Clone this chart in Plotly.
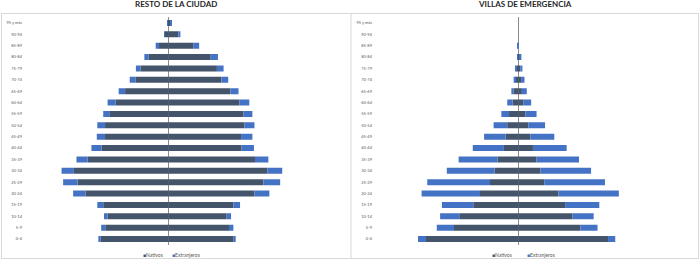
import plotly.graph_objects as go

ages = ["0-4", "5-9", "10-14", "15-19", "20-24", "25-29", "30-34", "35-39", "40-44",
        "45-49", "50-54", "55-59", "60-64", "65-69", "70-74", "75-79", "80-84",
        "85-89", "90-94", "95 y más"]

# Resto de la Ciudad (% of population)
resto_var_nat = [2.63, 2.45, 2.36, 2.53, 3.22, 3.53, 3.67, 3.14, 2.60, 2.46,
                 2.46, 2.27, 2.05, 1.68, 1.28, 1.08, 0.77, 0.36, 0.13, 0.02]
resto_var_ext = [0.09, 0.16, 0.14, 0.23, 0.48, 0.56, 0.48, 0.43, 0.39, 0.32,
                 0.30, 0.26, 0.31, 0.25, 0.22, 0.18, 0.16, 0.13, 0.03, 0.01]
resto_muj_nat = [2.54, 2.36, 2.27, 2.53, 3.35, 3.70, 3.85, 3.37, 2.85, 2.83,
                 2.96, 2.92, 2.76, 2.41, 2.07, 1.89, 1.65, 0.97, 0.39, 0.10]
resto_muj_ext = [0.08, 0.17, 0.17, 0.26, 0.58, 0.65, 0.58, 0.52, 0.48, 0.44,
                 0.39, 0.35, 0.39, 0.32, 0.26, 0.26, 0.28, 0.23, 0.08, 0.02]

# Villas de emergencia (% of population)
villas_var_nat = [3.59, 2.50, 2.27, 1.75, 1.49, 1.10, 0.92, 0.81, 0.56, 0.49,
                  0.43, 0.36, 0.22, 0.19, 0.11, 0.06, 0.02, 0.01, 0.00, 0.00]
villas_var_ext = [0.31, 0.67, 0.77, 1.22, 2.27, 2.44, 1.86, 1.51, 1.21, 0.84,
                  0.53, 0.30, 0.21, 0.08, 0.07, 0.06, 0.02, 0.01, 0.00, 0.00]
villas_muj_nat = [3.49, 2.41, 2.11, 1.82, 1.56, 1.01, 0.86, 0.71, 0.57, 0.47,
                  0.39, 0.28, 0.19, 0.14, 0.11, 0.08, 0.06, 0.01, 0.00, 0.00]
villas_muj_ext = [0.28, 0.67, 0.82, 1.33, 2.35, 2.36, 1.97, 1.65, 1.31, 0.93,
                  0.65, 0.43, 0.31, 0.19, 0.13, 0.08, 0.06, 0.01, 0.00, 0.00]

titles = ["RESTO DE LA CIUDAD", "VILLAS DE EMERGENCIA"]
series_names = ["Nativos", "Extranjeros"]
legend_labels = [["Nativos", "Extranjeros"], ["Nativos", "Extranjeros"]]

C_NAT = "#44546A"
C_EXT = "#4472C4"
W, H = 700, 261

fig = go.Figure()

panels = [
    (resto_var_nat, resto_var_ext, resto_muj_nat, resto_muj_ext, "x", "y"),
    (villas_var_nat, villas_var_ext, villas_muj_nat, villas_muj_ext, "x2", "y2"),
]
for vn, ve, mn, me, xa, ya in panels:
    for vals, color, name, neg in [(vn, C_NAT, series_names[0], True),
                                   (mn, C_NAT, series_names[0], False),
                                   (ve, C_EXT, series_names[1], True),
                                   (me, C_EXT, series_names[1], False)]:
        fig.add_trace(go.Bar(
            y=ages, x=[-v for v in vals] if neg else vals, orientation="h",
            marker=dict(color=color, line=dict(width=0)), name=name,
            showlegend=False, xaxis=xa, yaxis=ya,
        ))

R = 5.65
ydom = [(261 - 244.7) / H, (261 - 17.3) / H]
xd1 = [23 / W, 313.6 / W]
xd2 = [373 / W, 663.6 / W]

xcommon = dict(range=[-R, R], showticklabels=False, showgrid=False, zeroline=True,
               zerolinecolor="#8c8c8c", zerolinewidth=1, showline=False, fixedrange=True)
ycommon = dict(type="category", categoryorder="array", categoryarray=ages,
               range=[-0.5, 19.5], showgrid=False, showline=False, ticks="",
               tickfont=dict(size=4, color="#595959", family="Lato"), fixedrange=True)

fig.update_layout(
    width=W, height=H, margin=dict(l=0, r=0, t=0, b=0),
    paper_bgcolor="white", plot_bgcolor="white",
    barmode="relative", bargap=0.47,
    xaxis=dict(domain=xd1, anchor="y", **xcommon),
    yaxis=dict(domain=ydom, anchor="x", **ycommon),
    xaxis2=dict(domain=xd2, anchor="y2", **xcommon),
    yaxis2=dict(domain=ydom, anchor="x2", **ycommon),
    showlegend=False,
)

# frame
line_col = "#d9d9d9"
for x0, y0, x1, y1 in [(1, 13.5, 699, 13.5), (1, 258.5, 699, 258.5),
                       (1.5, 13.5, 1.5, 258.5), (351, 13.5, 351, 258.5),
                       (698.5, 13.5, 698.5, 258.5)]:
    fig.add_shape(type="line", xref="paper", yref="paper",
                  x0=x0 / W, x1=x1 / W, y0=1 - y0 / H, y1=1 - y1 / H,
                  line=dict(color=line_col, width=1))

# titles
for t, cx in zip(titles, [175.5, 524.5]):
    fig.add_annotation(text="<b>" + t + "</b>", xref="paper", yref="paper",
                       x=cx / W, y=1 - 4 / H, xanchor="center", yanchor="middle",
                       showarrow=False, font=dict(size=8, color="#262626", family="Lato"))

# legends
for labels, (x_nat, x_ext) in zip(legend_labels, [(141, 170), (490, 525)]):
    for lab, xx, col in [(labels[0], x_nat, C_NAT), (labels[1], x_ext, C_EXT)]:
        fig.add_annotation(text=f"<span style='color:{col}'>■</span>{lab}",
                           xref="paper", yref="paper", x=xx / W, y=1 - 255 / H,
                           xanchor="left", yanchor="middle", showarrow=False,
                           font=dict(size=5, color="#595959", family="Lato"))

fig.write_html("out.html")
